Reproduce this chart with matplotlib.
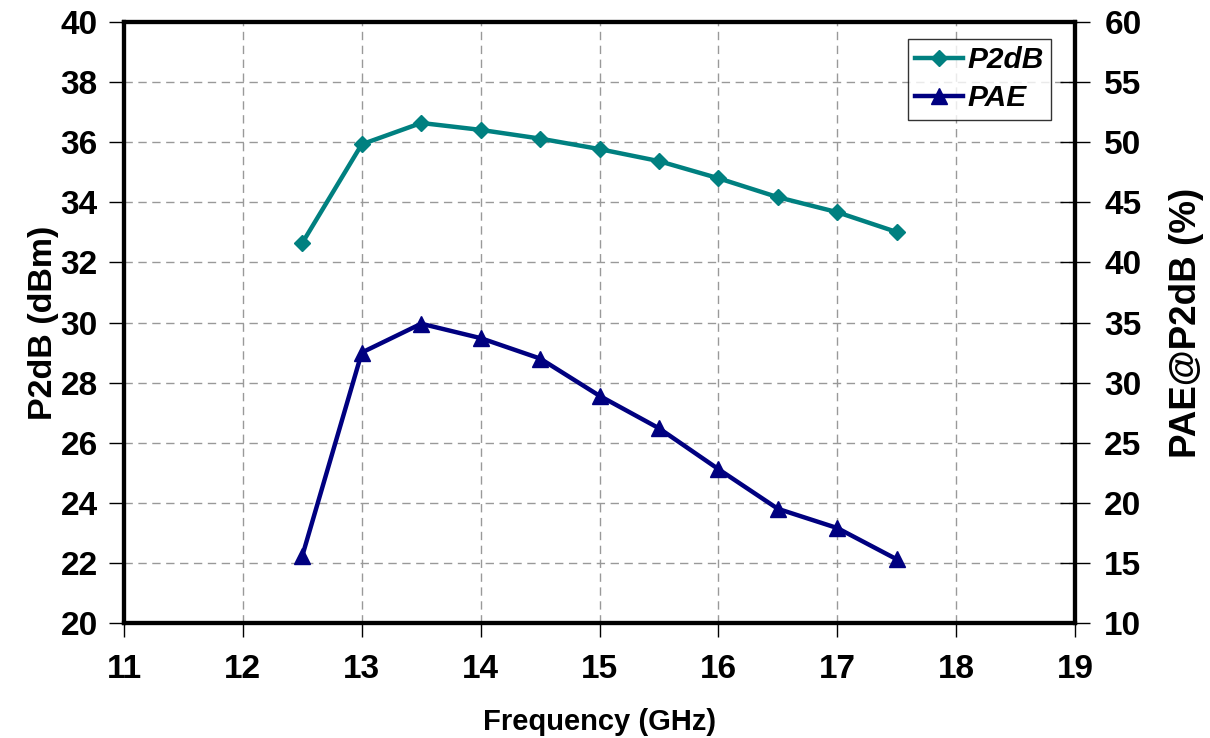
import matplotlib
matplotlib.use("Agg")
import matplotlib.pyplot as plt

freq = [12.5, 13.0, 13.5, 14.0, 14.5, 15.0, 15.5, 16.0, 16.5, 17.0, 17.5]
p2db = [32.65, 35.93, 36.64, 36.41, 36.12, 35.77, 35.37, 34.80, 34.17, 33.67, 33.01]
pae = [15.6, 32.5, 34.9, 33.7, 32.0, 28.9, 26.2, 22.8, 19.5, 17.9, 15.3]

xticks = list(range(11, 20))
yticks_left = list(range(20, 41, 2))
yticks_right = list(range(10, 61, 5))

plt.rcParams['font.family'] = ['Liberation Sans', 'DejaVu Sans']
plt.rcParams['font.weight'] = 'bold'

fig = plt.figure(figsize=(12.1, 7.38), dpi=100)
ax = fig.add_axes([0.1025, 0.1558, 0.7860, 0.8144])
ax2 = ax.twinx()

teal = '#008080'
navy = '#000080'

l1, = ax.plot(freq, p2db, color=teal, lw=3.2, marker='D', ms=8.5, label='P2dB', zorder=3)
l2, = ax2.plot(freq, pae, color=navy, lw=3.2, marker='^', ms=11, label='PAE', zorder=3)

ax.set_xlim(11, 19)
ax.set_ylim(20, 40)
ax2.set_ylim(10, 60)
ax.set_xticks(xticks)
ax.set_yticks(yticks_left)
ax2.set_yticks(yticks_right)

ax.grid(True, color='#999999', linestyle=(0, (6, 4)), linewidth=1)
ax.set_axisbelow(True)

for a in (ax, ax2):
    for s in a.spines.values():
        s.set_linewidth(3)
        s.set_color('black')

ax.tick_params(axis='x', direction='out', length=10, width=1, labelsize=24, pad=12)
ax.tick_params(axis='y', direction='out', length=11, width=1, labelsize=24, pad=8)
ax2.tick_params(axis='y', direction='inout', length=22, width=1, labelsize=24, pad=10)

ax.set_xlabel('Frequency (GHz)', fontsize=21, fontweight='bold', labelpad=17)
ax.set_ylabel('P2dB (dBm)', fontsize=24.5, fontweight='bold', labelpad=1)
ax2.set_ylabel('PAE@P2dB (%)', fontsize=26.5, fontweight='bold', labelpad=20)

leg = ax2.legend(handles=[l1, l2], loc='upper right', bbox_to_anchor=(0.9748, 0.9717),
                 borderaxespad=0,
                 prop={'size': 21.5, 'weight': 'bold', 'style': 'italic'},
                 frameon=True, fancybox=False, edgecolor='black', handlelength=1.6,
                 borderpad=0.25, labelspacing=0.33, handletextpad=0.15)
leg.get_frame().set_linewidth(1)

fig.savefig('out.png', dpi=100)
